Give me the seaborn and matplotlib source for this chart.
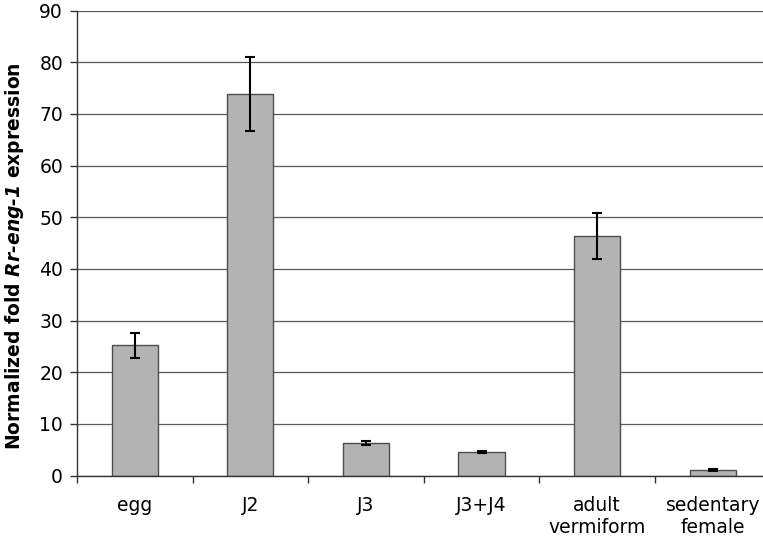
import numpy as np
import pandas as pd
import matplotlib
matplotlib.use("Agg")
import matplotlib.pyplot as plt
import seaborn as sns

sns.set_style("white")
plt.rcParams['font.family'] = ['DejaVu Sans']
plt.rcParams['mathtext.fontset'] = 'custom'
plt.rcParams['mathtext.it'] = 'DejaVu Sans:italic:bold'
plt.rcParams['mathtext.rm'] = 'DejaVu Sans:italic:bold'
plt.rcParams['text.color'] = 'black'
plt.rcParams['xtick.color'] = 'black'
plt.rcParams['ytick.color'] = 'black'
plt.rcParams['axes.labelcolor'] = 'black'

stages = ["egg", "J2", "J3", "J3+J4", "adult\nvermiform", "sedentary\nfemale"]
fold = [25.2, 73.8, 6.3, 4.6, 46.4, 1.0]
err = [2.4, 7.2, 0.4, 0.2, 4.4, 0.2]

df = pd.DataFrame({"stage": stages, "fold": fold, "err": err})

fig = plt.figure(figsize=(7.63, 5.36), dpi=100)
ax = fig.add_axes([0.1009, 0.1127, 0.909, 0.8677])

sns.barplot(data=df, x="stage", y="fold", ax=ax, color="#b3b3b3",
            saturation=1, width=0.4, edgecolor="#4d4d4d", linewidth=1)
ax.errorbar(np.arange(len(stages)), df["fold"], yerr=df["err"], fmt="none",
            ecolor="black", elinewidth=1.5, capsize=3.3, capthick=1.5)

ax.set_xlim(-0.5, len(stages) - 0.5)
ax.set_ylim(0, 90)
ax.set_yticks(np.arange(0, 91, 10))
ax.yaxis.grid(True, color="#5a5a5a", linewidth=0.9)
ax.set_axisbelow(True)

# ticks between categories, labels centred under bars
ax.set_xticks(np.arange(-0.5, len(stages), 1))
ax.set_xticklabels([])
ax.set_xticks(np.arange(len(stages)), minor=True)
ax.set_xticklabels(stages, minor=True, fontsize=13.5, linespacing=1.15)
ax.tick_params(axis="x", which="major", direction="out", length=5, width=1,
               color="#333333", bottom=True)
ax.tick_params(axis="x", which="minor", length=0, pad=15)
ax.tick_params(axis="y", direction="out", length=5, width=1, color="#333333",
               labelsize=13.5, left=True, pad=5)

for s in ["top", "right"]:
    ax.spines[s].set_visible(False)
for s in ["left", "bottom"]:
    ax.spines[s].set_color("#333333")
    ax.spines[s].set_linewidth(1)

ax.set_xlabel("")
ax.set_ylabel("Normalized fold $\\mathit{Rr\u2010eng\u20101}$ expression",
              fontsize=13.5, fontweight="bold")
ax.yaxis.set_label_coords(-0.073, 0.472)

fig.savefig("out.png", dpi=100)
